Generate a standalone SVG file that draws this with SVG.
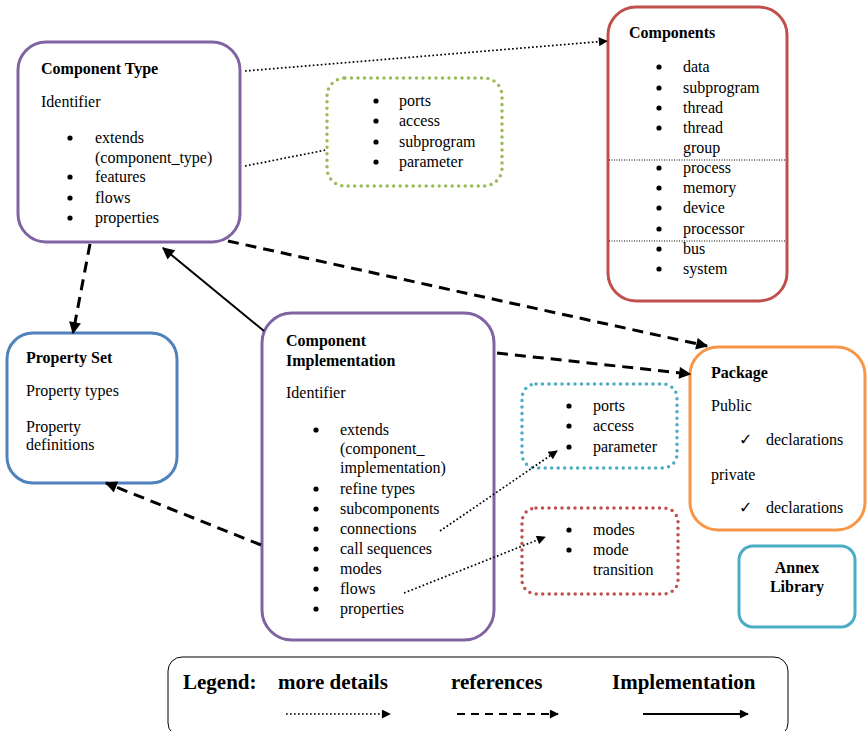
<svg xmlns="http://www.w3.org/2000/svg" width="868" height="731" viewBox="0 0 868 731">
<defs>
<style>
text{font-family:"Liberation Serif","Times New Roman",serif;font-size:16px;fill:#000}
.b{font-weight:bold}
.bu{fill:#000}
.ck{font-family:"DejaVu Sans",sans-serif;font-size:16px}
.box{fill:#fff;stroke-width:3}
.dotbox{fill:none;stroke-width:3.5;stroke-linecap:round;stroke-dasharray:0 6.5}
.dot{fill:none;stroke:#000;stroke-width:1.7;stroke-dasharray:1.7 2.3}
.dash{fill:none;stroke:#000;stroke-width:3;stroke-dasharray:11 7}
.solid{fill:none;stroke:#000;stroke-width:2}
.sep{stroke:#000;stroke-width:1;stroke-dasharray:1 1.5}
.lg{font-size:21px;font-weight:bold}
</style>
<marker id="aS" viewBox="0 0 10 10" refX="9" refY="5" markerUnits="userSpaceOnUse" markerWidth="10" markerHeight="9" orient="auto"><path d="M0,0L10,5L0,10z" fill="#000"/></marker>
<marker id="aL" viewBox="0 0 10 10" refX="9" refY="5" markerUnits="userSpaceOnUse" markerWidth="14" markerHeight="12" orient="auto"><path d="M0,0L10,5L0,10z" fill="#000"/></marker>
</defs>

<g id="component-type">
<rect class="box" x="18" y="42" width="222" height="200" rx="28" stroke="#8064A2"/>
<text class="b" x="41" y="74">Component Type</text>
<text x="41" y="107">Identifier</text>
<circle class="bu" cx="70" cy="138" r="2.6"/><text x="95" y="143">extends</text>
<text x="95" y="163">(component_type)</text>
<circle class="bu" cx="70" cy="177" r="2.6"/><text x="95" y="182">features</text>
<circle class="bu" cx="70" cy="198" r="2.6"/><text x="95" y="203">flows</text>
<circle class="bu" cx="70" cy="218" r="2.6"/><text x="95" y="223">properties</text>
</g>

<g id="components">
<rect class="box" x="608" y="7" width="179" height="294" rx="28" stroke="#C0504D"/>
<text class="b" x="629" y="38">Components</text>
<circle class="bu" cx="659" cy="67" r="2.6"/><text x="683" y="72">data</text>
<circle class="bu" cx="659" cy="88" r="2.6"/><text x="683" y="93">subprogram</text>
<circle class="bu" cx="659" cy="108" r="2.6"/><text x="683" y="113">thread</text>
<circle class="bu" cx="659" cy="128" r="2.6"/><text x="683" y="133">thread</text>
<text x="683" y="153">group</text>
<line class="sep" x1="609" y1="160" x2="786" y2="160"/>
<circle class="bu" cx="659" cy="168" r="2.6"/><text x="683" y="173">process</text>
<circle class="bu" cx="659" cy="188" r="2.6"/><text x="683" y="193">memory</text>
<circle class="bu" cx="659" cy="208" r="2.6"/><text x="683" y="213">device</text>
<circle class="bu" cx="659" cy="229" r="2.6"/><text x="683" y="234">processor</text>
<line class="sep" x1="609" y1="241" x2="786" y2="241"/>
<circle class="bu" cx="659" cy="249" r="2.6"/><text x="683" y="254">bus</text>
<circle class="bu" cx="659" cy="269" r="2.6"/><text x="683" y="274">system</text>
</g>

<g id="type-features">
<rect class="dotbox" x="327" y="78" width="175" height="108" rx="18" stroke="#9BBB59"/>
<circle class="bu" cx="376" cy="101" r="2.6"/><text x="399" y="106">ports</text>
<circle class="bu" cx="376" cy="121" r="2.6"/><text x="399" y="126">access</text>
<circle class="bu" cx="376" cy="142" r="2.6"/><text x="399" y="147">subprogram</text>
<circle class="bu" cx="376" cy="162" r="2.6"/><text x="399" y="167">parameter</text>
</g>

<g id="property-set">
<rect class="box" x="7" y="333" width="170" height="150" rx="26" stroke="#4F81BD"/>
<text class="b" x="26" y="363">Property Set</text>
<text x="26" y="396">Property types</text>
<text x="26" y="432">Property</text>
<text x="26" y="450">definitions</text>
</g>

<g id="component-implementation">
<rect class="box" x="262" y="313" width="232" height="327" rx="30" stroke="#8064A2"/>
<text class="b" x="286" y="346">Component</text>
<text class="b" x="286" y="366">Implementation</text>
<text x="286" y="398">Identifier</text>
<circle class="bu" cx="316" cy="430" r="2.6"/><text x="340" y="435">extends</text>
<text x="340" y="454">(component_</text>
<text x="340" y="473">implementation)</text>
<circle class="bu" cx="316" cy="489" r="2.6"/><text x="340" y="494">refine types</text>
<circle class="bu" cx="316" cy="509" r="2.6"/><text x="340" y="514">subcomponents</text>
<circle class="bu" cx="316" cy="529" r="2.6"/><text x="340" y="534">connections</text>
<circle class="bu" cx="316" cy="549" r="2.6"/><text x="340" y="554">call sequences</text>
<circle class="bu" cx="316" cy="569" r="2.6"/><text x="340" y="574">modes</text>
<circle class="bu" cx="316" cy="589" r="2.6"/><text x="340" y="594">flows</text>
<circle class="bu" cx="316" cy="609" r="2.6"/><text x="340" y="614">properties</text>
</g>

<g id="impl-features">
<rect class="dotbox" x="522" y="384" width="155" height="84" rx="14" stroke="#4BACC6"/>
<circle class="bu" cx="569" cy="406" r="2.6"/><text x="593" y="411">ports</text>
<circle class="bu" cx="569" cy="426" r="2.6"/><text x="593" y="431">access</text>
<circle class="bu" cx="569" cy="447" r="2.6"/><text x="593" y="452">parameter</text>
</g>

<g id="impl-modes">
<rect class="dotbox" x="522" y="508" width="156" height="86" rx="14" stroke="#C0504D"/>
<circle class="bu" cx="569" cy="530" r="2.6"/><text x="593" y="535">modes</text>
<circle class="bu" cx="569" cy="550" r="2.6"/><text x="593" y="555">mode</text>
<text x="593" y="575">transition</text>
</g>

<g id="package">
<rect class="box" x="690" y="347" width="175" height="183" rx="28" stroke="#F79646"/>
<text class="b" x="711" y="378">Package</text>
<text x="711" y="411">Public</text>
<text class="ck" x="739" y="445">✓</text><text x="766" y="445">declarations</text>
<text x="711" y="480">private</text>
<text class="ck" x="739" y="513">✓</text><text x="766" y="513">declarations</text>
</g>

<g id="annex-library">
<rect class="box" x="739" y="546" width="116" height="81" rx="14" stroke="#4BACC6"/>
<text class="b" x="797" y="573" text-anchor="middle">Annex</text>
<text class="b" x="797" y="592" text-anchor="middle">Library</text>
</g>

<g id="legend">
<rect x="168" y="657" width="620" height="80" rx="14" fill="#fff" stroke="#000" stroke-width="1"/>
<text class="lg" x="183" y="689">Legend:</text>
<text class="lg" x="278" y="689">more details</text>
<text class="lg" x="451" y="689">references</text>
<text class="lg" x="612" y="689">Implementation</text>
<line class="dot" x1="286" y1="714" x2="390" y2="714" style="stroke-width:1.4" marker-end="url(#aS)"/>
<line class="dash" x1="457" y1="714" x2="558" y2="714" style="stroke-width:2;stroke-dasharray:8 6" marker-end="url(#aS)"/>
<line class="solid" x1="643" y1="714" x2="748" y2="714" marker-end="url(#aS)"/>
</g>

<g id="connectors">
<line class="dot" x1="245" y1="71" x2="607" y2="41" marker-end="url(#aS)"/>
<line class="dot" x1="245" y1="166" x2="326" y2="150"/>
<line class="dash" x1="90" y1="244" x2="73" y2="333" marker-end="url(#aL)"/>
<line class="solid" x1="264" y1="331" x2="163" y2="248" marker-end="url(#aL)"/>
<line class="dash" x1="228" y1="241" x2="707" y2="346" marker-end="url(#aL)"/>
<line class="dash" x1="497" y1="353" x2="690" y2="374" marker-end="url(#aL)"/>
<line class="dash" x1="261" y1="545" x2="106" y2="483" marker-end="url(#aL)"/>
<line class="dot" x1="440" y1="531" x2="557" y2="451" marker-end="url(#aS)"/>
<line class="dot" x1="404" y1="593" x2="545" y2="537" marker-end="url(#aS)"/>
</g>
</svg>
